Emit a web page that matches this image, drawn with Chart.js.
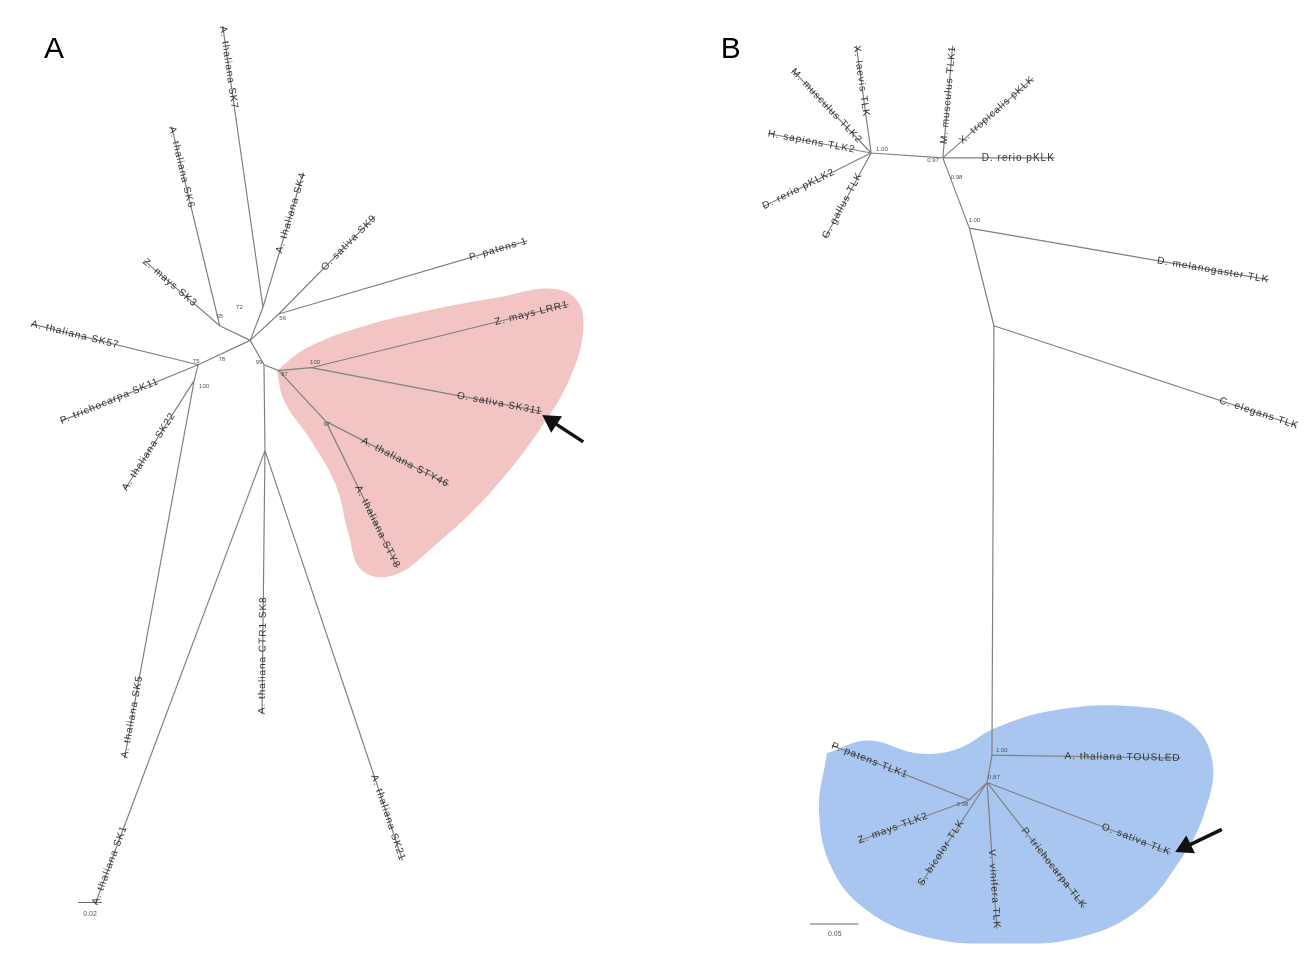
<!DOCTYPE html>
<html>
<head>
<meta charset="utf-8">
<script src="https://cdn.jsdelivr.net/npm/chart.js@4/dist/chart.umd.min.js"></script>
<style>
	html, body { margin: 0; padding: 0; background: #fff; }
	#wrap { width: 1308px; height: 955px; }
</style>
</head>
<body>
<div id="wrap"><canvas id="treeCanvas" width="1308" height="955"></canvas></div>
<script>
// tree layout, in figure units (x right, y down)
const nodesA = {
	N0: [243, 337], Na: [256, 303], Nb: [272, 310], Nc: [212, 322], Nd: [190, 362], Ne: [186, 378],
	N1: [257, 362], N2: [258, 450], Np: [272, 368], Np2: [305, 365], Np3: [320, 420],
	T1: [215, 15], T2: [163, 118], T3: [297, 165], T4: [370, 210], T5: [525, 235], T6: [135, 255],
	T7: [20, 320], T8: [50, 420], T9: [115, 490], T10: [115, 765], T11: [85, 915], T12: [255, 720],
	T13: [398, 870], T14: [567, 300], T15: [540, 410], T16: [445, 485], T17: [393, 570]
}
const branchesA = [
	['N0', 'Na'], ['Na', 'T1'], ['Na', 'T3'], ['N0', 'Nb'], ['Nb', 'T4'], ['Nb', 'T5'],
	['N0', 'Nc'], ['Nc', 'T2'], ['Nc', 'T6'], ['N0', 'Nd'], ['Nd', 'T7'], ['Nd', 'T8'],
	['Nd', 'Ne'], ['Ne', 'T9'], ['Ne', 'T10'], ['N0', 'N1'], ['N1', 'N2'], ['N2', 'T11'],
	['N2', 'T12'], ['N2', 'T13'], ['N1', 'Np'], ['Np', 'Np2'], ['Np2', 'T14'], ['Np2', 'T15'],
	['Np', 'Np3'], ['Np3', 'T16'], ['Np3', 'T17']
]
const tipNamesA = {
	T1: 'A. thaliana SK7', T2: 'A. thaliana SK6', T3: 'A. thaliana SK4', T4: 'O. sativa SK9',
	T5: 'P. patens 1', T6: 'Z. mays SK3', T7: 'A. thaliana SK57', T8: 'P. trichocarpa SK11',
	T9: 'A. thaliana SK22', T10: 'A. thaliana SK5', T11: 'A. thaliana SK1', T12: 'A. thaliana CTR1 SK8',
	T13: 'A. thaliana SK21', T14: 'Z. mays LRR1', T15: 'O. sativa SK311', T16: 'A. thaliana STY46',
	T17: 'A. thaliana STY8'
}
const supportA = [
	[232, 303, '72'], [276, 314, '56'], [212, 312, '95'], [188, 358, '75'], [214, 356, '78'],
	[196, 384, '100'], [252, 359, '99'], [278, 372, '87'], [309, 360, '100'], [321, 423, '97']
]

const nodesB = {
	M1: [875, 145], M2: [948, 150], M3: [975, 222], M4: [1000, 322], M5: [998, 762], M6: [993, 790], M7: [975, 808],
	S1: [860, 35], S2: [795, 60], S3: [770, 125], S4: [765, 200], S5: [828, 232], S6: [958, 35],
	S7: [1040, 68], S8: [1062, 150], S9: [1280, 275], S10: [1310, 425], S11: [1190, 765],
	S12: [1180, 862], S13: [1092, 918], S14: [1003, 940], S15: [925, 895], S16: [862, 850], S17: [835, 752]
}
const branchesB = [
	['M1', 'S1'], ['M1', 'S2'], ['M1', 'S3'], ['M1', 'S4'], ['M1', 'S5'], ['M1', 'M2'],
	['M2', 'S6'], ['M2', 'S7'], ['M2', 'S8'], ['M2', 'M3'], ['M3', 'S9'], ['M3', 'M4'],
	['M4', 'S10'], ['M4', 'M5'], ['M5', 'S11'], ['M5', 'M6'], ['M6', 'S12'], ['M6', 'S13'],
	['M6', 'S14'], ['M6', 'S15'], ['M6', 'M7'], ['M7', 'S16'], ['M7', 'S17']
]
const tipNamesB = {
	S1: 'X. laevis TLK', S2: 'M. musculus TLK2', S3: 'H. sapiens TLK2', S4: 'D. rerio pKLK2',
	S5: 'G. gallus TLK', S6: 'M. musculus TLK1', S7: 'X. tropicalis pKLK', S8: 'D. rerio pKLK',
	S9: 'D. melanogaster TLK', S10: 'C. elegans TLK', S11: 'A. thaliana TOUSLED', S12: 'O. sativa TLK',
	S13: 'P. trichocarpa TLK', S14: 'V. vinifera TLK', S15: 'S. bicolor TLK', S16: 'Z. mays TLK2',
	S17: 'P. patens TLK1'
}
const supportB = [
	[886, 141, '1.00'], [938, 153, '0.97'], [962, 170, '0.98'], [980, 214, '1.00'],
	[1008, 757, '1.00'], [1000, 785, '0.87'], [968, 812, '0.98']
]

// highlighted clades (outline points)
const cladeA = [
	[270, 368], [300, 345], [360, 322], [430, 305], [500, 292], [548, 284], [575, 295], [582, 325],
	[570, 372], [542, 422], [490, 490], [430, 548], [388, 578], [356, 572], [343, 535], [330, 485],
	[305, 440], [278, 400], [270, 368]
]
const cladeB = [
	[830, 760], [872, 747], [922, 760], [962, 756], [1002, 734], [1062, 716], [1140, 712], [1196, 726],
	[1222, 766], [1214, 822], [1188, 872], [1148, 920], [1090, 948], [1010, 956], [930, 948],
	[872, 922], [836, 880], [822, 820], [830, 760]
]

const arrowA = [[582, 441], [550, 420]]
const arrowB = [[1232, 838], [1195, 856]]
const scaleBarA = [[68, 913], [92, 913]]
const scaleBarB = [[813, 935], [862, 935]]

const pt = ([x, y]) => ({ x, y })
const segments = (nodes, edges) =>
	edges.flatMap(([a, b]) => [pt(nodes[a]), pt(nodes[b]), { x: null, y: null }])

function arrowSet(points) {
	const [tail, head] = points
	const ang = Math.atan2(head[1] - tail[1], head[0] - tail[0]) * 180 / Math.PI
	return {
		data: points.map(pt),
		showLine: true,
		borderColor: '#111',
		borderWidth: 3.5,
		pointStyle: 'triangle',
		pointRadius: [0, 8],
		pointBackgroundColor: '#111',
		pointBorderColor: '#111',
		rotation: ang + 90,
		order: 1
	}
}

const treeText = {
	id: 'treeText',
	afterDatasetsDraw(chart) {
		const { ctx, scales: { x, y } } = chart
		const px = p => [x.getPixelForValue(p[0]), y.getPixelForValue(p[1])]
		ctx.save()
		ctx.textBaseline = 'middle'

		const tipLabels = (nodes, edges, names) => {
			ctx.font = '10px "Liberation Sans", Arial, sans-serif'
			ctx.letterSpacing = '1px'
			ctx.fillStyle = '#333'
			edges.forEach(([a, b]) => {
				if (!names[b]) return
				const [x0, y0] = px(nodes[a])
				const [x1, y1] = px(nodes[b])
				let ang = Math.atan2(y1 - y0, x1 - x0)
				let align = 'right'
				if (ang > Math.PI / 2 || ang < -Math.PI / 2) {
					ang += Math.PI
					align = 'left'
				}
				ctx.save()
				ctx.translate(x1, y1)
				ctx.rotate(ang)
				ctx.textAlign = align
				ctx.fillText(names[b], 0, 0)
				ctx.restore()
			})
			ctx.letterSpacing = '0px'
		}
		tipLabels(nodesA, branchesA, tipNamesA)
		tipLabels(nodesB, branchesB, tipNamesB)

		ctx.font = '6px "Liberation Sans", Arial, sans-serif'
		ctx.fillStyle = '#555'
		ctx.textAlign = 'center'
		supportA.concat(supportB).forEach(([sx, sy, t]) => {
			const [qx, qy] = px([sx, sy])
			ctx.fillText(t, qx, qy)
		})

		ctx.font = '7px "Liberation Sans", Arial, sans-serif'
		let [bx, by] = px([80, 925])
		ctx.fillText('0.02', bx, by)
		;[bx, by] = px([838, 945])
		ctx.fillText('0.05', bx, by)

		ctx.font = '30px "Liberation Sans", Arial, sans-serif'
		ctx.fillStyle = '#000'
		ctx.textAlign = 'left'
		ctx.textBaseline = 'alphabetic'
		;[bx, by] = px([33, 48])
		ctx.fillText('A', bx, by)
		;[bx, by] = px([722, 48])
		ctx.fillText('B', bx, by)
		ctx.restore()
	}
}

const lineStyle = {
	showLine: true,
	borderColor: '#808080',
	borderWidth: 1.2,
	pointRadius: 0,
	spanGaps: false,
	order: 2
}

new Chart(document.getElementById('treeCanvas'), {
	type: 'scatter',
	data: {
		datasets: [
			arrowSet(arrowA),
			arrowSet(arrowB),
			{ ...lineStyle, data: segments(nodesA, branchesA) },
			{ ...lineStyle, data: segments(nodesB, branchesB) },
			{ ...lineStyle, borderColor: '#666', data: scaleBarA.map(pt) },
			{ ...lineStyle, borderColor: '#666', data: scaleBarB.map(pt) },
			{
				data: cladeA.map(pt), showLine: true, fill: 'shape', tension: 0.4,
				borderColor: 'rgba(0,0,0,0)', backgroundColor: '#f2c4c3', pointRadius: 0, order: 5
			},
			{
				data: cladeB.map(pt), showLine: true, fill: 'shape', tension: 0.4,
				borderColor: 'rgba(0,0,0,0)', backgroundColor: '#a8c6ef', pointRadius: 0, order: 5
			}
		]
	},
	options: {
		responsive: false,
		animation: false,
		layout: { padding: 0 },
		scales: {
			x: { type: 'linear', min: 0, max: 1308, display: false },
			y: { type: 'linear', min: 0, max: 955, reverse: true, display: false }
		},
		plugins: {
			legend: { display: false },
			tooltip: { enabled: false }
		}
	},
	plugins: [treeText]
})
</script>
</body>
</html>
